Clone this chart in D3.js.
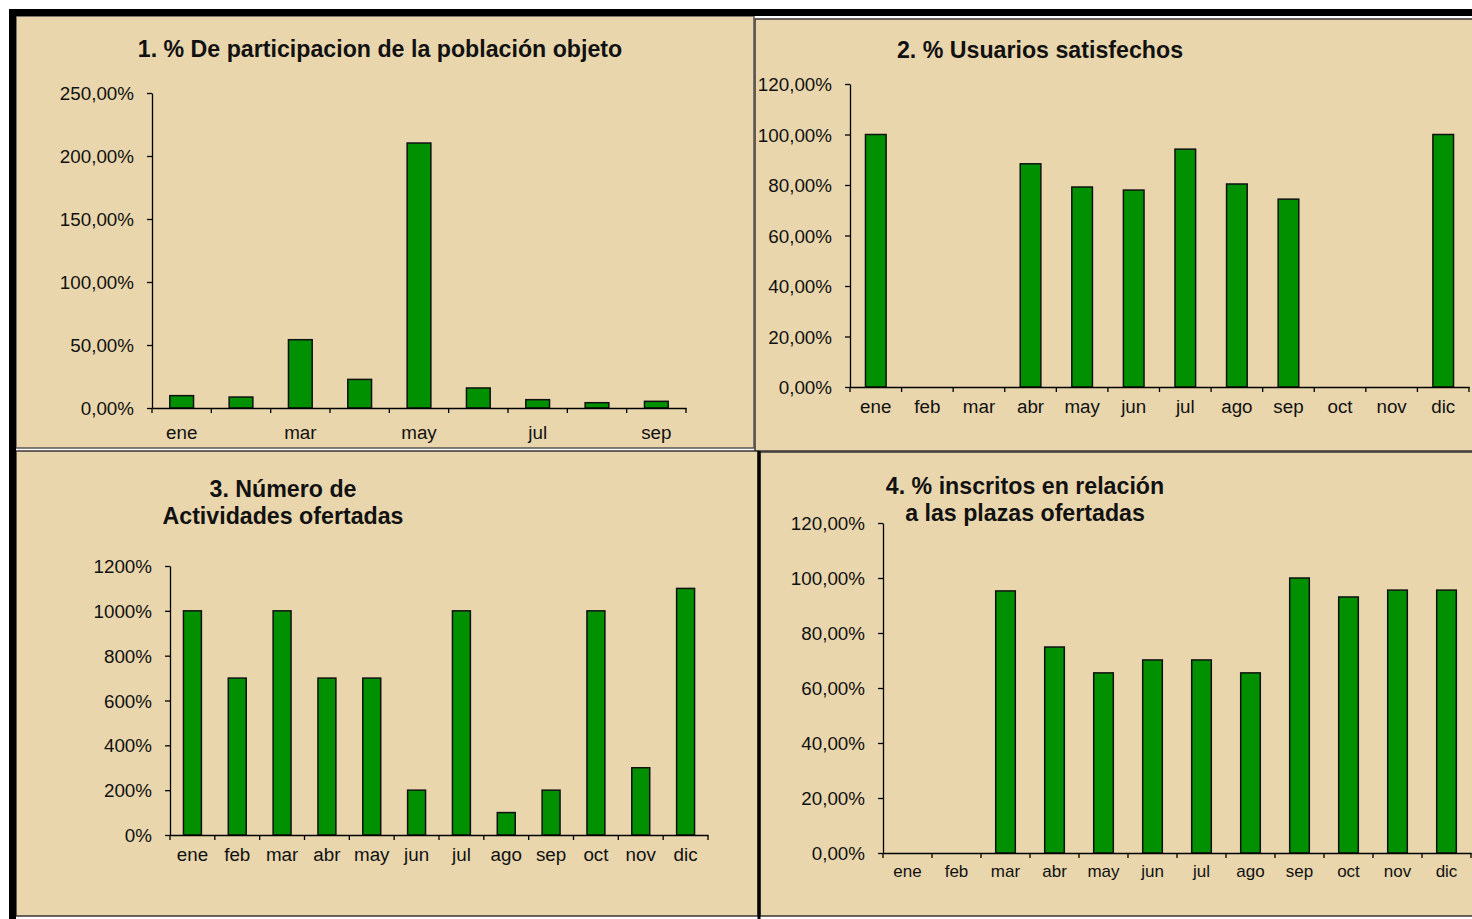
<!DOCTYPE html>
<html>
<head>
<meta charset="utf-8">
<script src="https://cdn.jsdelivr.net/npm/d3@7/dist/d3.min.js"></script>
<style>
  html, body { margin: 0; padding: 0; background: #ffffff; }
  svg { display: block; }
  .tick text { font-family: "Liberation Sans", Arial, sans-serif; fill: #111; }
  .title { font-family: "Liberation Sans", Arial, sans-serif; font-weight: bold; fill: #111; }
</style>
</head>
<body>
<svg id="chart" width="1472" height="919"></svg>
<script>
// Month labels
const months12 = ["ene", "feb", "mar", "abr", "may", "jun", "jul", "ago", "sep", "oct", "nov", "dic"];
const months9 = months12.slice(0, 9);

// 1. % De participacion de la población objeto (fractions)
const participacion = [0.098, 0.087, 0.542, 0.227, 2.103, 0.159, 0.066, 0.042, 0.053];
const participacionTicks = [0, 0.5, 1, 1.5, 2, 2.5];
const participacionLabels = ["ene", "mar", "may", "jul", "sep"];

// 2. % Usuarios satisfechos
const satisfechos = [1.00, 0, 0, 0.884, 0.792, 0.780, 0.942, 0.804, 0.744, 0, 0, 1.00];
const satisfechosTicks = [0, 0.2, 0.4, 0.6, 0.8, 1.0, 1.2];

// 3. Número de Actividades ofertadas
const actividades = [10, 7, 10, 7, 7, 2, 10, 1, 2, 10, 3, 11];
const actividadesTicks = [0, 2, 4, 6, 8, 10, 12];

// 4. % inscritos en relación a las plazas ofertadas
const inscritos = [0, 0, 0.953, 0.749, 0.655, 0.702, 0.702, 0.655, 1.00, 0.931, 0.956, 0.956];
const inscritosTicks = [0, 0.2, 0.4, 0.6, 0.8, 1.0, 1.2];

const es = d3.formatLocale({ decimal: ",", thousands: ".", grouping: [3], currency: ["", " €"] });
const pct2 = es.format(".2%");
const pct0 = es.format(".0%");

const svg = d3.select("#chart");
const TAN = "#E9D6AC";
const GREEN = "#009000";
const LABEL_SIZE = 18.8;
const TITLE_SIZE = 23.2;

// Frame: panels and the heavy black border on top/left
const frame = svg.append("g");
frame.append("rect").attr("x", 755).attr("y", 19).attr("width", 730).attr("height", 432)
  .attr("fill", TAN).attr("stroke", "#3a3434").attr("stroke-width", 1.5);
frame.append("rect").attr("x", 760).attr("y", 452).attr("width", 730).attr("height", 464)
  .attr("fill", TAN).attr("stroke", "#3a3434").attr("stroke-width", 1.5);
frame.append("rect").attr("x", 16).attr("y", 451).attr("width", 742).attr("height", 465)
  .attr("fill", TAN).attr("stroke", "#3a3434").attr("stroke-width", 1.5);
frame.append("line").attr("x1", 759).attr("x2", 759).attr("y1", 451).attr("y2", 919)
  .attr("stroke", "#000").attr("stroke-width", 3);
frame.append("rect").attr("x", 16).attr("y", 16).attr("width", 738).attr("height", 432)
  .attr("fill", TAN).attr("stroke", "#5a5454").attr("stroke-width", 1.5);
frame.append("rect").attr("x", 9).attr("y", 9).attr("width", 1463).attr("height", 7).attr("fill", "#000");
frame.append("rect").attr("x", 9).attr("y", 9).attr("width", 7).attr("height", 910).attr("fill", "#000");

function panel(cfg) {
  const g = svg.append("g");
  const x = d3.scaleBand().domain(cfg.cats).range(cfg.xRange).paddingInner(0.6).paddingOuter(0.3);
  const y = d3.scaleLinear().domain(cfg.yDomain).range(cfg.yRange);
  const step = x.step();
  const x0 = cfg.xRange[0];

  // bars
  g.selectAll("rect.bar").data(cfg.values.map((v, i) => ({ c: cfg.cats[i], v })).filter(d => d.v > 0))
    .join("rect").attr("class", "bar")
    .attr("x", d => x(d.c)).attr("width", x.bandwidth())
    .attr("y", d => y(d.v)).attr("height", d => y(0) - y(d.v))
    .attr("fill", GREEN).attr("stroke", "#111").attr("stroke-width", 1.5);

  // y axis
  const ya = g.append("g").attr("transform", `translate(${x0},0)`)
    .call(d3.axisLeft(y).tickValues(cfg.yTicks).tickFormat(cfg.fmt).tickSize(5).tickSizeOuter(0).tickPadding(13));
  ya.selectAll("text").attr("font-size", LABEL_SIZE).attr("dy", "0.35em");
  ya.selectAll("line, path").attr("stroke", "#000").attr("stroke-width", 1.3);

  // x axis with boundary ticks
  const xa = g.append("g").attr("transform", `translate(0,${y(0)})`)
    .call(d3.axisBottom(x).tickValues(cfg.labels).tickSize(0).tickSizeOuter(0).tickPadding(cfg.labelPad));
  xa.selectAll("text").attr("font-size", cfg.xLabelSize || LABEL_SIZE);
  xa.select("path").attr("stroke", "#000").attr("stroke-width", 1.3);
  g.append("g").selectAll("line").data(d3.range(cfg.cats.length + 1))
    .join("line")
    .attr("x1", i => x0 + i * step).attr("x2", i => x0 + i * step)
    .attr("y1", y(0)).attr("y2", y(0) + 5)
    .attr("stroke", "#000").attr("stroke-width", 1.3);

  // title
  const t = g.append("text").attr("class", "title").attr("text-anchor", "middle")
    .attr("font-size", TITLE_SIZE);
  cfg.title.forEach((line, i) => {
    t.append("tspan").attr("x", cfg.titlePos[0]).attr("y", cfg.titlePos[1] + i * 27).text(line);
  });
}

panel({
  cats: months9, values: participacion, labels: participacionLabels,
  xRange: [152, 686], yDomain: [0, 2.5], yRange: [408, 93], yTicks: participacionTicks,
  fmt: pct2, labelPad: 18,
  title: ["1. % De participacion de la población objeto"], titlePos: [380, 57]
});
panel({
  cats: months12, values: satisfechos, labels: months12,
  xRange: [850, 1469], yDomain: [0, 1.2], yRange: [387, 84], yTicks: satisfechosTicks,
  fmt: pct2, labelPad: 13,
  title: ["2. % Usuarios satisfechos"], titlePos: [1040, 58]
});
panel({
  cats: months12, values: actividades, labels: months12,
  xRange: [170, 708], yDomain: [0, 12], yRange: [835, 566], yTicks: actividadesTicks,
  fmt: pct0, labelPad: 13,
  title: ["3. Número de", "Actividades ofertadas"], titlePos: [283, 497]
});
panel({
  cats: months12, values: inscritos, labels: months12,
  xRange: [883, 1471], yDomain: [0, 1.2], yRange: [853, 523], yTicks: inscritosTicks,
  fmt: pct2, labelPad: 12, xLabelSize: 17,
  title: ["4. % inscritos en relación", "a las plazas ofertadas"], titlePos: [1025, 494]
});
</script>
</body>
</html>
